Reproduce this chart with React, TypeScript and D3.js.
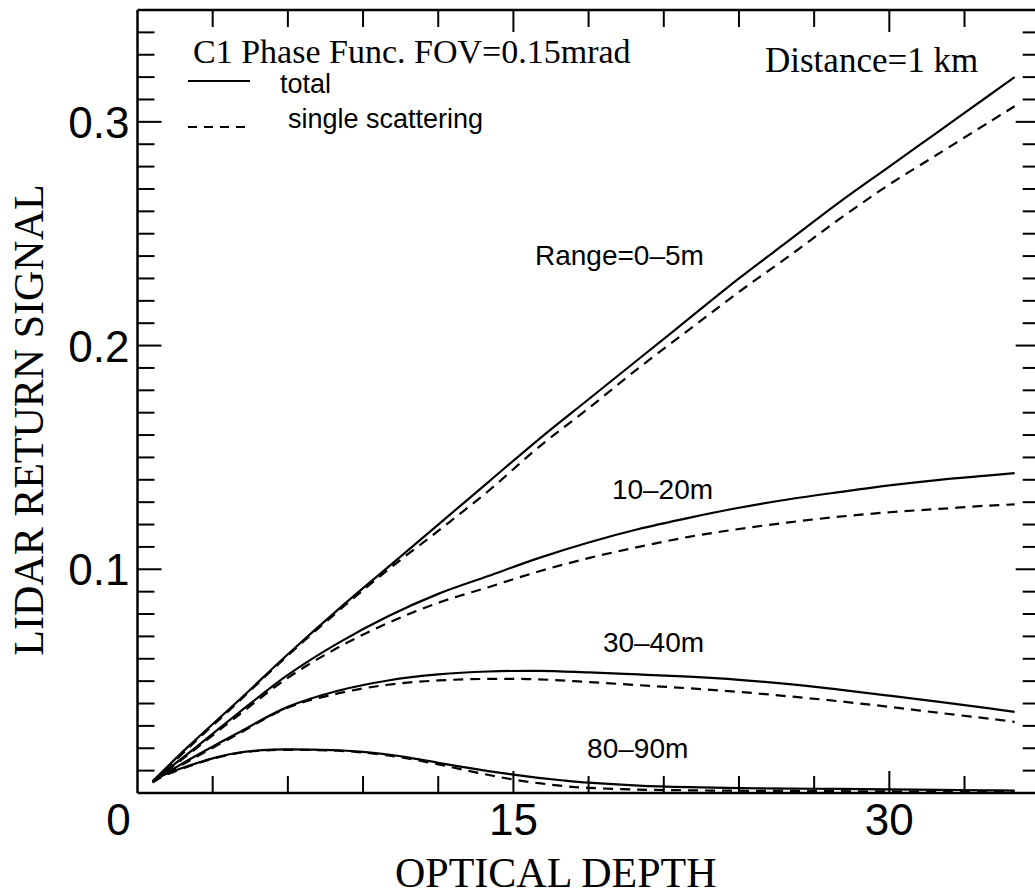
import React from "react";
import * as d3 from "d3";

// ---- data ----
const depthA = [0.6, 2, 4, 6, 8, 10, 12, 14, 16, 18, 20, 22, 24, 26, 28, 30, 32, 34, 35];
const depthB = [0.6, 1, 2, 3, 4, 5, 6, 7, 8, 9, 10, 11, 12, 13, 14, 15, 16, 17, 18, 20, 22, 24, 26, 28, 30, 32, 34, 35];

const r0_5Total = [0.0052, 0.0205, 0.041, 0.062, 0.082, 0.101, 0.12, 0.139, 0.158, 0.176, 0.194, 0.212, 0.23, 0.247, 0.264, 0.28, 0.296, 0.312, 0.32];
const r0_5Single = [0.0048, 0.0198, 0.0405, 0.0615, 0.0812, 0.0998, 0.1172, 0.135, 0.1545, 0.172, 0.19, 0.207, 0.224, 0.24, 0.2565, 0.272, 0.286, 0.3, 0.307];
const r10_20Total = [0.0052, 0.0175, 0.0355, 0.0528, 0.067, 0.079, 0.089, 0.097, 0.105, 0.112, 0.118, 0.123, 0.1275, 0.1313, 0.1345, 0.1375, 0.14, 0.142, 0.143];
const r10_20Single = [0.0048, 0.017, 0.0345, 0.0515, 0.065, 0.076, 0.085, 0.092, 0.099, 0.105, 0.11, 0.1145, 0.118, 0.121, 0.1235, 0.1255, 0.127, 0.1285, 0.129];
const r30_40Total = [0.0052, 0.0145, 0.0268, 0.0385, 0.0457, 0.0503, 0.053, 0.0543, 0.0546, 0.0539, 0.053, 0.052, 0.0506, 0.0487, 0.0462, 0.0435, 0.0407, 0.0378, 0.0363];
const r30_40Single = [0.0048, 0.014, 0.0263, 0.0382, 0.0445, 0.0484, 0.0503, 0.051, 0.0508, 0.0496, 0.0482, 0.0468, 0.0452, 0.0432, 0.041, 0.0385, 0.0358, 0.0332, 0.0318];
const r80_90Total = [0.0052, 0.0078, 0.012, 0.0155, 0.018, 0.0192, 0.0195, 0.0194, 0.0191, 0.0184, 0.0172, 0.0155, 0.0135, 0.0116, 0.0098, 0.0082, 0.0068, 0.0056, 0.0046, 0.0033, 0.0026, 0.0022, 0.002, 0.0018, 0.0016, 0.0014, 0.0012, 0.0011];
const r80_90Single = [0.0048, 0.0074, 0.0117, 0.0153, 0.0178, 0.019, 0.0193, 0.0192, 0.0189, 0.0181, 0.0168, 0.015, 0.0128, 0.0104, 0.0081, 0.006, 0.0044, 0.0031, 0.0023, 0.0015, 0.0012, 0.001, 0.0009, 0.0008, 0.0007, 0.0006, 0.0005, 0.0005];

const xTickLabels = [0, 15, 30];
const yTickLabels = [0.1, 0.2, 0.3];
const curveLabels = [
  { text: "Range=0–5m", x: 15.86, y: 0.236 },
  { text: "10–20m", x: 18.93, y: 0.1314 },
  { text: "30–40m", x: 18.57, y: 0.063 },
  { text: "80–90m", x: 17.94, y: 0.0156 },
];

const SERIF = "'Liberation Serif', 'Times New Roman', serif";
const SANS = "'Liberation Sans', Arial, Helvetica, sans-serif";

export default function App() {
  const W = 1035;
  const H = 895;
  const x = d3.scaleLinear().domain([0, 36]).range([137.5, 1039.7]);
  const y = d3.scaleLinear().domain([0, 0.35]).range([793, 10]);

  const line = (xs: number[], ys: number[]) =>
    d3
      .line<number>()
      .x((_, i) => x(xs[i]))
      .y((d) => y(d))
      .curve(d3.curveCatmullRom.alpha(0.5))(ys) || "";

  const series = [
    { xs: depthA, ys: r0_5Total, dash: false },
    { xs: depthA, ys: r0_5Single, dash: true },
    { xs: depthA, ys: r10_20Total, dash: false },
    { xs: depthA, ys: r10_20Single, dash: true },
    { xs: depthA, ys: r30_40Total, dash: false },
    { xs: depthA, ys: r30_40Single, dash: true },
    { xs: depthB, ys: r80_90Total, dash: false },
    { xs: depthB, ys: r80_90Single, dash: true },
  ];

  const x0 = x(0), x1 = x(36), y0 = y(0), y1 = y(0.35);
  const xMinor = d3.range(3, 36, 3);
  const yMinor = d3.range(1, 35).map((v) => v / 100);
  const isMajorX = (v: number) => v % 15 === 0;
  const isMajorY = (v: number) => Math.abs(v * 10 - Math.round(v * 10)) < 1e-6;

  return (
    <svg
      width={W}
      height={H}
      style={{ position: "absolute", left: 0, top: 0, background: "#fff" }}
    >
      <rect x={0} y={0} width={W} height={H} fill="#fff" />
      {/* frame */}
      <g stroke="#000" strokeWidth={2.5} fill="none">
        <line x1={x0} y1={y0} x2={x1} y2={y0} />
        <line x1={x0} y1={y1} x2={x1} y2={y1} />
        <line x1={x0} y1={y0} x2={x0} y2={y1} />
        <line x1={x1} y1={y0} x2={x1} y2={y1} />
      </g>
      {/* ticks */}
      <g stroke="#000" strokeWidth={2}>
        {xMinor.map((v) => {
          const len = isMajorX(v) ? 22 : 17;
          return (
            <g key={"xt" + v}>
              <line x1={x(v)} x2={x(v)} y1={y0} y2={y0 - len} />
              <line x1={x(v)} x2={x(v)} y1={y1} y2={y1 + len} />
            </g>
          );
        })}
        {yMinor.map((v) => {
          const len = isMajorY(v) ? 24 : 17;
          return (
            <g key={"yt" + v}>
              <line x1={x0} x2={x0 + len} y1={y(v)} y2={y(v)} />
              <line x1={x1} x2={x1 - len} y1={y(v)} y2={y(v)} />
            </g>
          );
        })}
      </g>
      {/* tick labels */}
      <g fontFamily={SANS} fontSize={44} fill="#000">
        {yTickLabels.map((v) => (
          <text key={"yl" + v} x={x0 - 8} y={y(v) + 16} textAnchor="end">
            {v.toFixed(1)}
          </text>
        ))}
        {xTickLabels.map((v) => (
          <text
            key={"xl" + v}
            x={v === 0 ? x0 - 19 : x(v)}
            y={y0 + 42}
            textAnchor="middle"
          >
            {String(v)}
          </text>
        ))}
      </g>
      {/* axis titles */}
      <text x={395} y={887} fontFamily={SERIF} fontSize={42} fill="#000">
        OPTICAL DEPTH
      </text>
      <text
        transform={`translate(43,420) rotate(-90)`}
        textAnchor="middle"
        fontFamily={SERIF}
        fontSize={42}
        fill="#000"
      >
        LIDAR RETURN SIGNAL
      </text>
      {/* curves */}
      <g fill="none" stroke="#000" strokeWidth={2.2}>
        {series.map((s, i) => (
          <path
            key={i}
            d={line(s.xs, s.ys)}
            strokeDasharray={s.dash ? "10,7" : undefined}
          />
        ))}
      </g>
      {/* curve labels */}
      <g fontFamily={SANS} fontSize={28} fill="#000">
        {curveLabels.map((c) => (
          <text key={c.text} x={x(c.x)} y={y(c.y)}>
            {c.text}
          </text>
        ))}
      </g>
      {/* header / legend */}
      <text x={193} y={63} fontFamily={SERIF} fontSize={34} fill="#000">
        C1 Phase Func. FOV=0.15mrad
      </text>
      <text x={765} y={72} fontFamily={SERIF} fontSize={35} fill="#000">
        Distance=1 km
      </text>
      <line x1={188} x2={250} y1={81} y2={81} stroke="#000" strokeWidth={2.2} />
      <text x={280} y={93} fontFamily={SANS} fontSize={27} fill="#000">
        total
      </text>
      <line
        x1={188}
        x2={250}
        y1={127}
        y2={127}
        stroke="#000"
        strokeWidth={2.2}
        strokeDasharray="9,7"
      />
      <text x={288} y={128} fontFamily={SANS} fontSize={27} fill="#000">
        single scattering
      </text>
    </svg>
  );
}
